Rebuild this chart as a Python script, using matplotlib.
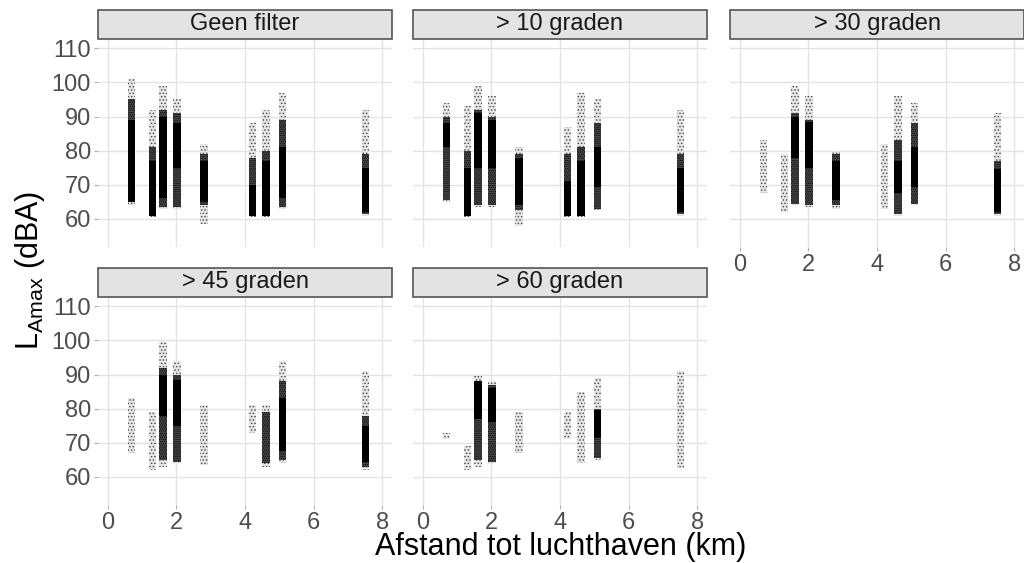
import matplotlib
matplotlib.use("Agg")
import matplotlib.pyplot as plt
from matplotlib.patches import Rectangle
import numpy as np

plt.rcParams['font.family'] = ['Liberation Sans', 'DejaVu Sans']
plt.rcParams['mathtext.fontset'] = 'custom'
plt.rcParams['mathtext.rm'] = 'Liberation Sans'
plt.rcParams['hatch.linewidth'] = 0.6

panels = ["Geen filter", "> 10 graden", "> 30 graden", "> 45 graden", "> 60 graden"]
# afstand van de meetpunten tot de luchthaven (km)
afstand = [0.69, 1.30, 1.61, 2.02, 2.81, 4.22, 4.61, 5.10, 7.51]
x_ticks = [0, 2, 4, 6, 8]
y_ticks = [60, 70, 80, 90, 100, 110]
nan = np.nan

# totale spreiding (losse punten)
tail_lo = [[64, 60.5, 63, 63, 58.5, 60.5, 60.5, 63, 61],
           [65, 60.5, 63.5, 63.5, 58, 60.5, 60.5, 62.5, 61],
           [67.5, 62, 64, 63.5, 63, 63, 61, 64, 61],
           [67, 62, 63, 64, 63.5, 73, 63, 64, 62],
           [71, 62, 63, 64, 67, 71, 64, 65, 62.5]]
tail_hi = [[101, 92, 99, 95, 82, 88, 92, 97, 92],
           [94, 93, 99, 96, 81, 87, 97, 95, 92],
           [83, 79, 99, 96, 80, 82, 96, 94, 91],
           [83, 79, 99.5, 94, 81, 81, 81, 94, 91],
           [73, 69, 90, 88, 79, 79, 85, 89, 91]]
# middelmatige dichtheid
mid_lo = [[65, 60.8, 63.5, 63.5, 64, 61, 60.8, 63.5, 61.5],
          [65.5, 61, 64, 64, 62.5, 61, 60.8, 63, 61.5],
          [nan, nan, 64.5, 64, 64, nan, 61.5, 64.5, 61.5],
          [nan, nan, 65, 64.5, nan, nan, 64, 65, 63],
          [nan, nan, 65, 64.5, nan, nan, nan, 65.5, nan]]
mid_hi = [[95, 81, 92, 91, 79, 78, 80, 89, 79],
          [90, 80, 92, 90, 79, 79, 81, 88, 79],
          [nan, nan, 91, 89, 79, nan, 83, 88, 77],
          [nan, nan, 92, 90, nan, nan, 79, 88, 78],
          [nan, nan, 88, 87, nan, nan, nan, 80, nan]]
# dichte kern
core_lo = [[65, 61, 66, 75, 65, 61, 61, 66, 62],
           [81, 61, 75, 75, 64, 61, 61, 69.5, 62],
           [nan, nan, 78, 75, 65.5, nan, 67.5, 69.5, 62],
           [nan, nan, 78, 75, nan, nan, nan, 67.5, 64.5],
           [nan, nan, 77, 76, nan, nan, nan, 71.5, nan]]
core_hi = [[89, 77, 90, 88, 77, 70, 77, 81, 75],
           [88, 75, 91, 89, 78, 71, 77, 81, 75],
           [nan, nan, 90, 88.5, 77, nan, 77, 81, 74.5],
           [nan, nan, 90, 88.5, nan, nan, nan, 83, 75],
           [nan, nan, 88, 86, nan, nan, nan, 79.5, nan]]

W, H = 1024, 563
fig = plt.figure(figsize=(W / 100, H / 100), dpi=100)
lefts = [98, 413, 730]
tops = [40, 298]
pw, ph = 294, 207
grid_c = '#e3e3e3'
tick_c = '#4d4d4d'

for i, name in enumerate(panels):
    r, c = divmod(i, 3)
    ax = fig.add_axes([lefts[c] / W, 1 - (tops[r] + ph) / H, pw / W, ph / H])
    ax.set_xlim(-0.29, 8.29)
    ax.set_ylim(51.8, 112.4)
    ax.set_xticks(x_ticks, [str(v) for v in x_ticks], fontsize=17, color=tick_c)
    ax.set_yticks(y_ticks, [str(v) for v in y_ticks], fontsize=17, color=tick_c)
    ax.grid(True, color=grid_c, lw=1.0)
    ax.set_axisbelow(True)
    for s in ax.spines.values():
        s.set_visible(False)
    ax.tick_params(color='#b0b0b0', length=3, width=0.8, pad=2)
    if c != 0:
        ax.tick_params(axis='y', labelleft=False, length=0)
    if r == 0 and c < 2:
        ax.tick_params(axis='x', labelbottom=False, length=0)

    x = np.array(afstand)
    tl, th = np.array(tail_lo[i]), np.array(tail_hi[i])
    ml, mh = np.array(mid_lo[i]), np.array(mid_hi[i])
    cl, ch = np.array(core_lo[i]), np.array(core_hi[i])
    ax.bar(x, th - tl, bottom=tl, width=0.22, facecolor='#e6e6e6', edgecolor='#444444',
           hatch='.....', lw=0)
    ax.bar(x, mh - ml, bottom=ml, width=0.22, facecolor='#4a4a4a', edgecolor='#000000',
           hatch='........', lw=0)
    ax.bar(x, ch - cl, bottom=cl, width=0.22, color='black', lw=0)

    ax.add_patch(Rectangle((0, 1.005), 1, 0.14, transform=ax.transAxes, clip_on=False,
                           facecolor='#e3e3e3', edgecolor='#555555', lw=1.2))
    ax.text(0.5, 1.075, name, transform=ax.transAxes, ha='center', va='center',
            fontsize=17, color='#1a1a1a')

fig.text((98 + 1024) / 2 / W, 1 - 547 / H, "Afstand tot luchthaven (km)",
         ha='center', va='center', fontsize=22, color='black')
fig.text(30 / W, 1 - 270 / H, r'L$_{\rm Amax}$ (dBA)', rotation=90,
         ha='center', va='center', fontsize=22, color='black')

fig.savefig("out.png", dpi=100, facecolor='white')
